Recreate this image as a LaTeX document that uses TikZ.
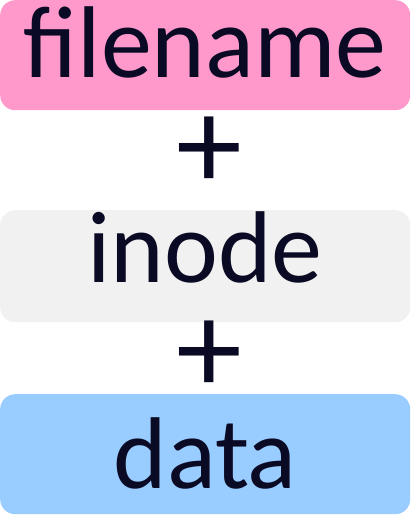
\documentclass[tikz,border=0pt]{standalone}
\usepackage{fontspec}
\setmainfont{Carlito}
\usepackage{tikz}
\usetikzlibrary{positioning}
\definecolor{namepink}{RGB}{255, 153, 204}
\definecolor{inodegray}{RGB}{241, 241, 241}
\definecolor{datablue}{RGB}{153, 204, 255}
\definecolor{inkblack}{RGB}{10, 10, 36}

\begin{document}
\begin{tikzpicture}[x=1pt, y=-1pt,
    part/.style={rounded corners=15pt, inner sep=0pt, minimum width=410pt, anchor=north west, text=inkblack, font=\fontsize{102}{102}\selectfont},
    plus/.style={text=inkblack, font=\fontsize{132}{132}\selectfont, inner sep=0pt, text height=62pt, text depth=0pt, anchor=base}]
\useasboundingbox (0,0) rectangle (412,517);
\node[part, fill=namepink, text height=77pt, text depth=33pt] (filename) at (0,0) {filename};
\node[plus] (plusa) at (209,189) {+};
\node[part, fill=inodegray, text height=72pt, text depth=40pt] (inode) at (0,210) {inode};
\node[plus] (plusb) at (209,393) {+};
\node[part, fill=datablue, text height=94pt, text depth=26pt] (data) at (0,394) {data};
\end{tikzpicture}
\end{document}
